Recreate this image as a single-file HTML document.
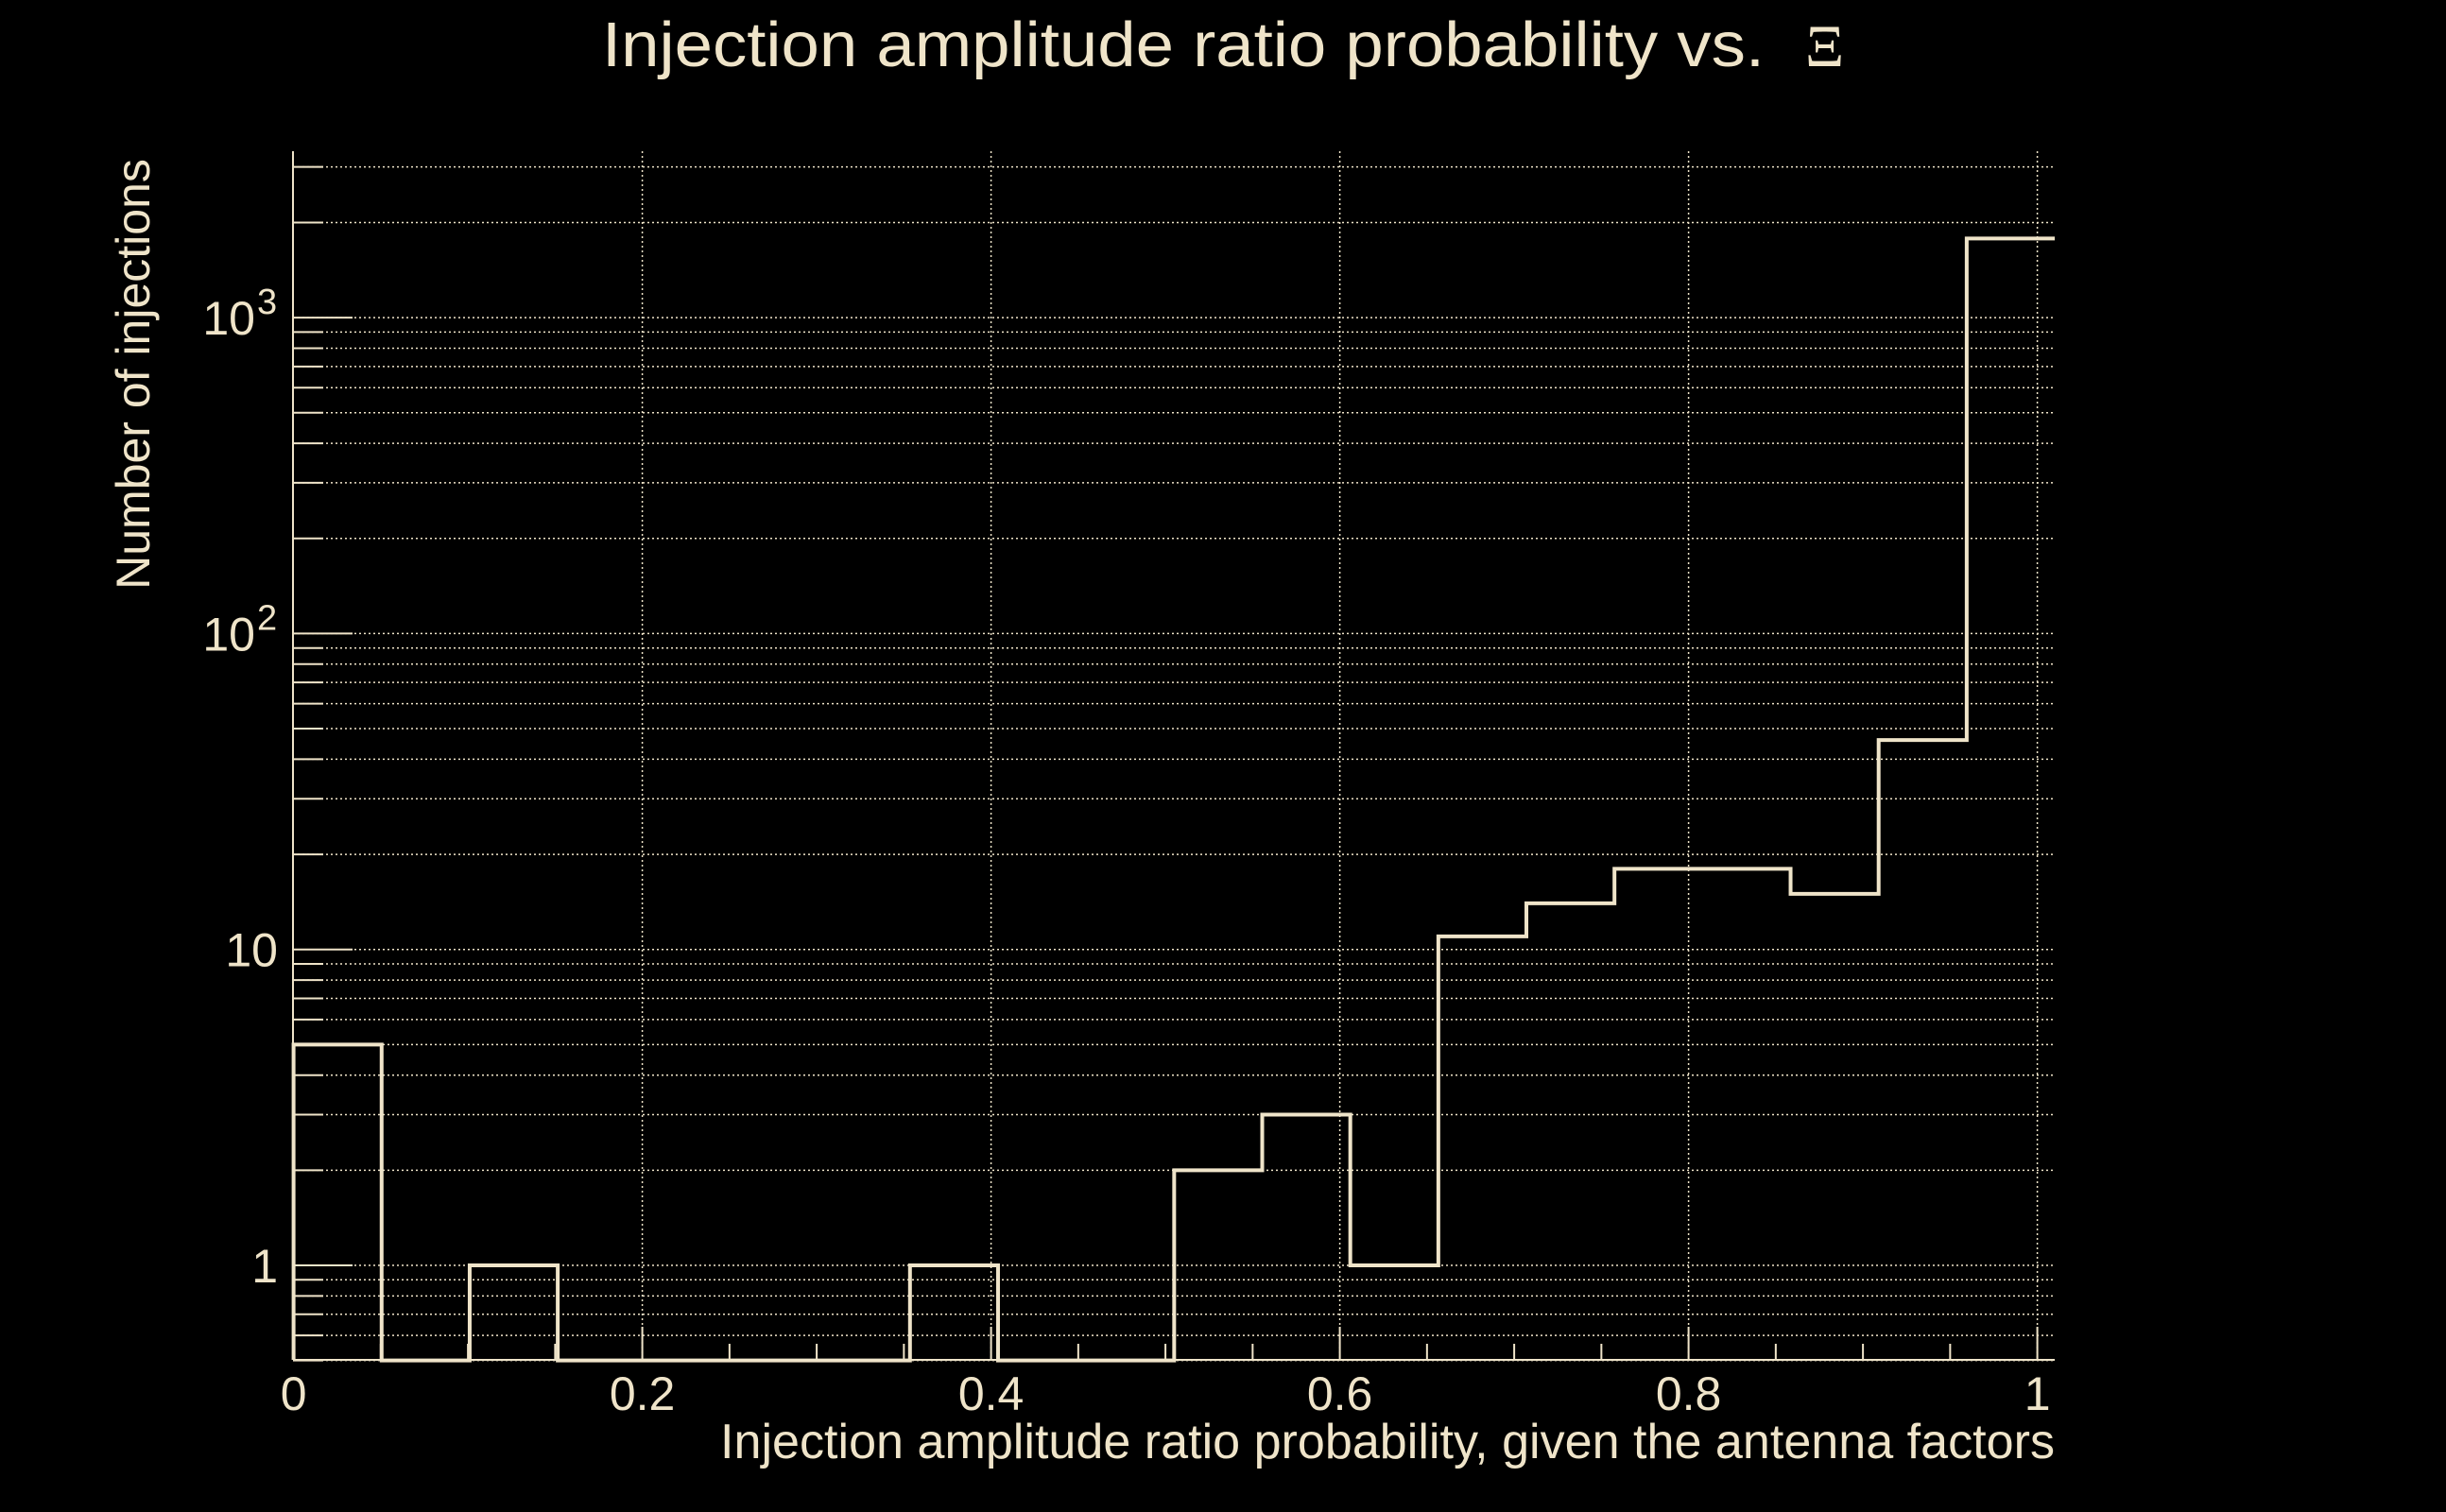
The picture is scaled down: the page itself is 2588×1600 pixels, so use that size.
<!DOCTYPE html>
<html><head><meta charset="utf-8"><style>
html,body{margin:0;padding:0;background:#000;width:2588px;height:1600px;overflow:hidden}
svg{display:block}
text{font-family:"Liberation Sans",sans-serif;fill:#efe4c9}
</style></head><body>
<svg id="chart" width="2588" height="1600" viewBox="0 0 2588 1600" xmlns="http://www.w3.org/2000/svg">
<rect width="2588" height="1600" fill="#000"/>
<text x="637" y="70" font-size="67" textLength="1230" lengthAdjust="spacingAndGlyphs">Injection amplitude ratio probability vs.</text>
<text x="1910" y="70" font-size="64" style="font-family:'Liberation Serif',serif">Ξ</text>
<text transform="translate(158,396) rotate(-90)" text-anchor="middle" font-size="50">Number of injections</text>
<text x="2174" y="1543" text-anchor="end" font-size="52" textLength="1412" lengthAdjust="spacingAndGlyphs">Injection amplitude ratio probability, given the antenna factors</text>
<g id="grid"></g><g id="ticks"></g><g id="bars"></g>
</svg>
<script>
const binCounts = [5,0,1,0,0,0,0,1,0,0,2,3,1,11,14,18,18,15,46,1780];
const binMin = 0;
const binMax = 1.01;
const xTicks = [0,0.2,0.4,0.6,0.8,1];
const xTickLabels = ["0","0.2","0.4","0.6","0.8","1"];
const yMajor = [1,10,100,1000];
const yMajorBase = ["1","10","10","10"];
const yMajorExp = ["","","2","3"];

const NS="http://www.w3.org/2000/svg";
const L=310,R=2174,T=160,B=1439;
const X0=310.6, XS=1845;
const yMin=0.5, Y1=1339, DEC=334.3;
const C="#efe4c9";
function sx(v){return X0+v*XS;}
function sy(v){if(v<yMin)v=yMin;return Y1-Math.log10(v)*DEC;}
function mk(tag,attrs,parent){const e=document.createElementNS(NS,tag);for(const k in attrs)e.setAttribute(k,attrs[k]);parent.appendChild(e);return e;}
const grid=document.getElementById('grid'),ticks=document.getElementById('ticks'),bars=document.getElementById('bars');

let a=mk('line',{x1:L,y1:T,x2:L,y2:B,stroke:C,'stroke-width':2},ticks);


a=mk('line',{x1:L,y1:B,x2:R,y2:B,stroke:C,'stroke-width':2},ticks);



for(let d=-1;d<=3;d++){
  for(let m=1;m<=9;m++){
    const v=m*Math.pow(10,d);
    const y=sy(v);
    if(v<yMin||y<T)continue;
    const g=mk('line',{x1:L,y1:y,x2:R,y2:y,stroke:C,'stroke-width':1.5,'stroke-dasharray':'2 3'},grid);
    
    
    const t=mk('line',{x1:L,y1:y,x2:L+(m===1?63:32),y2:y,stroke:C,'stroke-width':2},ticks);
    
    
  }
}
yMajor.forEach((v,i)=>{
  const y=sy(v);
  const hasExp=yMajorExp[i]!=="";
  const t=mk('text',{x:hasExp?270:294,y:y+18,'text-anchor':'end','font-size':50},ticks);
  t.textContent=yMajorBase[i];
  
  
  if(hasExp){
    const e=mk('text',{x:272,y:y-4,'text-anchor':'start','font-size':38},ticks);
    e.textContent=yMajorExp[i];
    
    
  }
});
xTicks.forEach((v,i)=>{
  const x=sx(v);
  if(i>0){
    const g=mk('line',{x1:x,y1:T,x2:x,y2:B,stroke:C,'stroke-width':1.5,'stroke-dasharray':'2 3'},grid);
    
    
  }
  const t=mk('text',{x:x,y:1492,'text-anchor':'middle','font-size':50},ticks);
  t.textContent=xTickLabels[i];
  
  
});
for(let k=1;k<=20;k++){
  const v=k*0.05, x=sx(v);
  const len=(k%4===0)?35:17;
  const t=mk('line',{x1:x,y1:B,x2:x,y2:B-len,stroke:C,'stroke-width':2},ticks);
  
  
}
const w=(binMax-binMin)/binCounts.length;
let d='M'+sx(binMin)+' '+B;
binCounts.forEach((c,i)=>{
  const x0=sx(binMin+i*w), x1=sx(binMin+(i+1)*w), y=sy(c);
  d+=' L'+x0+' '+y+' L'+x1+' '+y;
});
const p=mk('path',{d:d,fill:'none',stroke:C,'stroke-width':4,'stroke-linejoin':'miter'},bars);


</script>
</body></html>
